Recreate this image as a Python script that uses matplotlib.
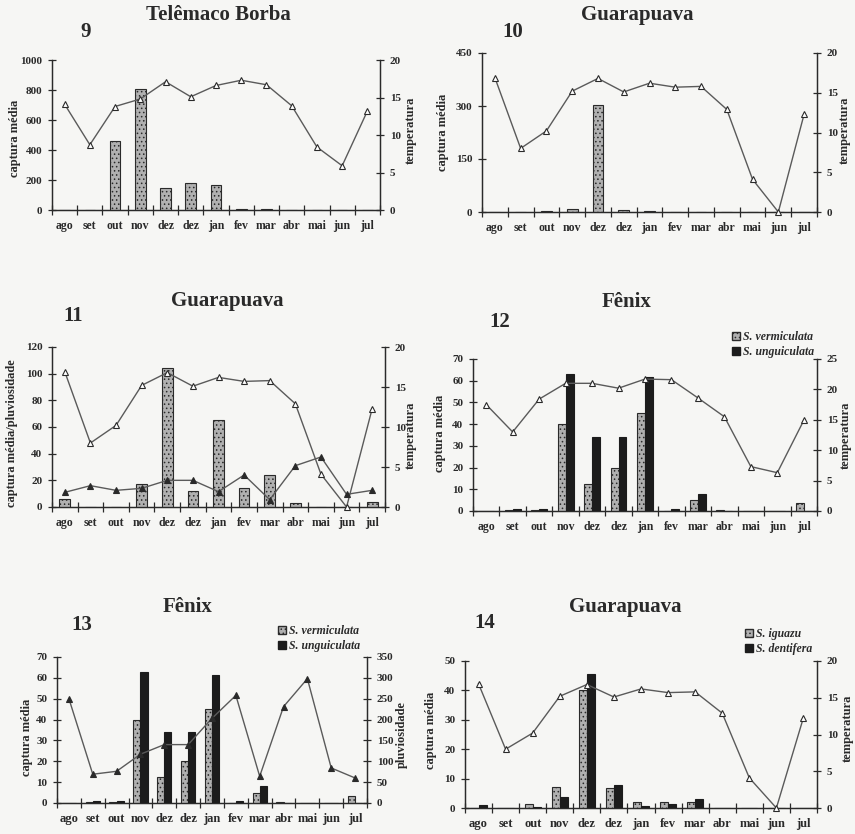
import numpy as np
import matplotlib
matplotlib.use("Agg")
from matplotlib import pyplot as plt
from matplotlib.patches import Patch

meses = ["ago", "set", "out", "nov", "dez", "dez", "jan", "fev", "mar", "abr", "mai", "jun", "jul"]

# 9 - Telemaco Borba
tb_captura = [0, 0, 460, 810, 145, 180, 165, 8, 4, 0, 0, 0, 0]
tb_temp = [14.1, 8.7, 13.8, 14.8, 17.1, 15.1, 16.6, 17.3, 16.7, 13.9, 8.4, 5.9, 13.2]

# Guarapuava temperature (10, 11, 14)
gp_temp = [16.9, 8.0, 10.2, 15.2, 16.8, 15.1, 16.2, 15.7, 15.8, 12.9, 4.1, 0.0, 12.3]
# 10
gp10_captura = [0, 0, 2, 8, 304, 5, 2, 0, 0, 0, 0, 0, 0]
# 11
gp11_captura = [6, 0, 0, 17, 104, 12, 65, 14, 24, 3, 0, 0, 4]
gp11_pluv = [11, 16, 12.5, 14, 20, 20, 11.5, 24, 5.5, 31, 37.5, 9.5, 12.5]
# 14
gp_iguazu = [0, 0, 1.5, 7, 40, 6.7, 2.2, 2.2, 2.2, 0, 0, 0, 0]
gp_dentifera = [1, 0, 0.3, 3.6, 45.5, 7.8, 0.8, 1.3, 3.0, 0, 0, 0, 0]

# Fenix (12, 13)
fx_vermiculata = [0, 0.3, 0.5, 40, 12.6, 20, 45, 0, 5, 0.3, 0, 0, 3.5]
fx_unguiculata = [0, 1, 1, 63, 34, 34, 61.5, 1, 8, 0, 0, 0, 0]
fx_temp = [17.5, 13.0, 18.4, 21.0, 21.0, 20.2, 21.7, 21.6, 18.6, 15.5, 7.3, 6.3, 14.9]
fx_pluv = [250, 69, 76, 117, 140, 140, 203, 258, 64, 231, 298, 84, 60]

W, H = 855, 834
INK = "#2a2a2a"
GREY = "#b0b0b0"
DARK = "#1c1c1c"
SERIF = "Liberation Serif"

plt.rcParams["font.family"] = SERIF
plt.rcParams["font.weight"] = "bold"
plt.rcParams["hatch.linewidth"] = 0.6
plt.rcParams["hatch.color"] = "#707070"
plt.rcParams["text.color"] = INK
plt.rcParams["axes.edgecolor"] = INK
plt.rcParams["xtick.color"] = INK
plt.rcParams["ytick.color"] = INK

fig = plt.figure(figsize=(W / 100, H / 100), dpi=100)
fig.patch.set_facecolor("#f6f6f4")


def box(x0, y0, x1, y1):
    # pixel box -> figure fraction
    return [x0 / W, 1 - y1 / H, (x1 - x0) / W, (y1 - y0) / H]


def ftext(x, y, s, **kw):
    fig.text(x / W, 1 - y / H, s, ha="center", va="center", **kw)


def ylab(x, y, s):
    ftext(x, y, s, rotation=90, fontsize=9, fontweight="bold")


def style(ax, ylim, yticks):
    ax.set_facecolor("none")
    ax.spines["top"].set_visible(False)
    ax.set_ylim(*ylim)
    ax.set_yticks(yticks)
    ax.tick_params(axis="y", direction="inout", length=6, width=0.9, labelsize=8, pad=4)
    for lb in ax.get_yticklabels():
        lb.set_fontweight("bold")
    for sp in ax.spines.values():
        sp.set_linewidth(0.9)


def panel(rect, ylim, yticks, ylim2, yticks2, xsize=8.5):
    ax = fig.add_axes(box(*rect))
    x = np.arange(len(meses))
    ax.set_xlim(-0.5, len(meses) - 0.5)
    ax.set_xticks(np.arange(-0.5, len(meses)))
    ax.set_xticklabels([])
    ax.set_xticks(x, minor=True)
    ax.set_xticklabels(meses, minor=True, fontsize=xsize, fontweight="bold")
    ax.tick_params(axis="x", which="major", direction="inout", length=7, width=0.9)
    ax.tick_params(axis="x", which="minor", length=0, pad=7)
    style(ax, ylim, yticks)
    ax2 = ax.twinx()
    style(ax2, ylim2, yticks2)
    ax.set_zorder(ax2.get_zorder() + 1)
    return ax, x


def bars1(ax, x, vals):
    ax.bar(x, vals, width=0.42, color=GREY, edgecolor=INK, linewidth=0.8, hatch="....")


def bars2(ax, x, v1, v2):
    ax.bar(x - 0.15, v1, width=0.3, color=GREY, edgecolor=INK, linewidth=0.8, hatch="....")
    ax.bar(x + 0.15, v2, width=0.3, color=DARK, edgecolor=DARK, linewidth=0.8)


def line(ax, x, vals, filled=False):
    ax.plot(x, vals, color="#5a5a5a", lw=1.0, marker="^", ms=5,
            mfc=INK if filled else "white", mec=INK, mew=0.8, zorder=5, clip_on=False)


def legenda(ax, labels, x, y):
    hs = [Patch(facecolor=GREY, edgecolor=INK, hatch="...."), Patch(facecolor=DARK, edgecolor=DARK)]
    ax.legend(hs, labels, loc="upper left", bbox_to_anchor=(x / W, 1 - y / H),
              bbox_transform=fig.transFigure, frameon=False, handlelength=0.7,
              handleheight=0.7, handletextpad=0.25, labelspacing=0.25, borderpad=0,
              prop={"family": SERIF, "style": "italic", "weight": "bold", "size": 8.5})


# 9
ax, x = panel((52, 60, 380, 210), (0, 1000), range(0, 1001, 200), (0, 20), range(0, 21, 5))
bars1(ax, x, tb_captura)
line(ax, x, np.array(tb_temp) * 50)
ylab(15, 138, "captura média")
ylab(411, 130, "temperatura")
ftext(218, 15, "Telêmaco Borba", fontsize=15, fontweight="bold")
ftext(86, 32, "9", fontsize=15, fontweight="bold")

# 10
ax, x = panel((482, 53, 817, 212), (0, 450), range(0, 451, 150), (0, 20), range(0, 21, 5))
bars1(ax, x, gp10_captura)
line(ax, x, np.array(gp_temp) * 22.5)
ylab(443, 132, "captura média")
ylab(845, 130, "temperatura")
ftext(637, 15, "Guarapuava", fontsize=15, fontweight="bold")
ftext(513, 32, "10", fontsize=15, fontweight="bold")

# 11
ax, x = panel((52, 347, 385, 507), (0, 120), range(0, 121, 20), (0, 20), range(0, 21, 5))
bars1(ax, x, gp11_captura)
line(ax, x, np.array(gp_temp) * 6)
line(ax, x, gp11_pluv, filled=True)
ylab(12, 433, "captura média/pluviosidade")
ylab(411, 435, "temperatura")
ftext(227, 301, "Guarapuava", fontsize=15, fontweight="bold")
ftext(73, 316, "11", fontsize=15, fontweight="bold")

# 12
ax, x = panel((473, 359, 817, 511), (0, 70), range(0, 71, 10), (0, 25), range(0, 26, 5))
bars2(ax, x, fx_vermiculata, fx_unguiculata)
line(ax, x, np.array(fx_temp) * 70 / 25)
legenda(ax, ["S. vermiculata", "S. unguiculata"], 726, 325)
ylab(440, 433, "captura média")
ylab(846, 435, "temperatura")
ftext(627, 302, "Fênix", fontsize=15, fontweight="bold")
ftext(500, 322, "12", fontsize=15, fontweight="bold")

# 13
ax, x = panel((57, 657, 367, 803), (0, 70), range(0, 71, 10), (0, 350), range(0, 351, 50), xsize=9)
bars2(ax, x, fx_vermiculata, fx_unguiculata)
line(ax, x, np.array(fx_pluv) / 5, filled=True)
legenda(ax, ["S. vermiculata", "S. unguiculata"], 272, 619)
ylab(27, 737, "captura média")
ylab(402, 735, "pluviosidade")
ftext(188, 607, "Fênix", fontsize=15, fontweight="bold")
ftext(82, 625, "13", fontsize=15, fontweight="bold")

# 14
ax, x = panel((465, 661, 817, 808), (0, 50), range(0, 51, 10), (0, 20), range(0, 21, 5), xsize=9)
bars2(ax, x, gp_iguazu, gp_dentifera)
line(ax, x, np.array(gp_temp) * 2.5)
legenda(ax, ["S. iguazu", "S. dentifera"], 739, 622)
ylab(431, 730, "captura média")
ylab(848, 728, "temperatura")
ftext(625, 607, "Guarapuava", fontsize=15, fontweight="bold")
ftext(485, 623, "14", fontsize=15, fontweight="bold")

plt.savefig("out.png", dpi=100, facecolor=fig.get_facecolor())
